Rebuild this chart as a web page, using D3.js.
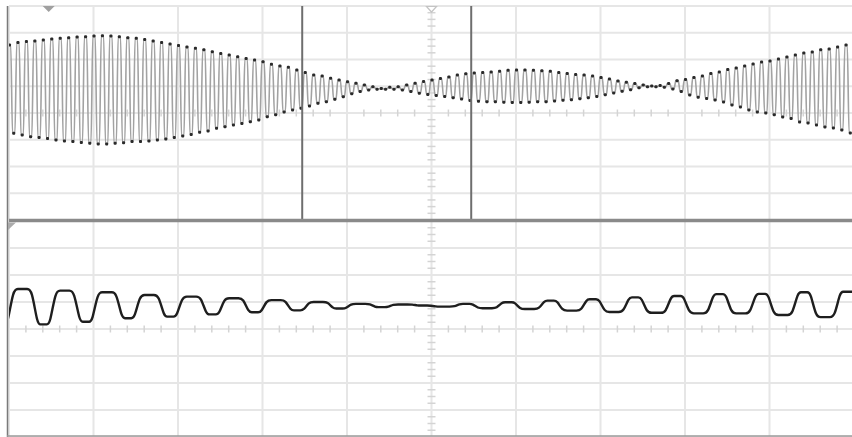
<!DOCTYPE html>
<html>
<head>
<meta charset="utf-8">
<script src="https://cdn.jsdelivr.net/npm/d3@7"></script>
<style>
  body { margin: 0; background: #fff; }
  svg { display: block; }
</style>
</head>
<body>
<div id="chart"></div>
<script>
const width = 852;
const height = 437;

// Channel 1 (top): peak and trough level of every cycle, in divisions
const ch1Peaks = [
  2.54, 2.64, 2.67, 2.69, 2.73, 2.77, 2.79, 2.81, 2.84, 2.85,
  2.88, 2.89, 2.88, 2.85, 2.81, 2.79, 2.75, 2.69, 2.64, 2.58,
  2.52, 2.47, 2.42, 2.36, 2.29, 2.22, 2.17, 2.10, 2.04, 1.98,
  1.92, 1.82, 1.76, 1.71, 1.61, 1.51, 1.42, 1.38, 1.30, 1.23,
  1.17, 1.11, 1.05, 0.98, 0.92, 0.96, 0.98, 1.05, 1.11, 1.18,
  1.23, 1.29, 1.35, 1.42, 1.47, 1.50, 1.51, 1.53, 1.56, 1.60,
  1.61, 1.61, 1.60, 1.58, 1.56, 1.51, 1.48, 1.44, 1.42, 1.38,
  1.33, 1.27, 1.20, 1.15, 1.10, 1.05, 1.01, 1.03, 1.10, 1.21,
  1.25, 1.33, 1.38, 1.48, 1.53, 1.63, 1.68, 1.76, 1.83, 1.91,
  1.94, 2.02, 2.09, 2.17, 2.24, 2.28, 2.36, 2.39, 2.47, 2.54
];
const ch1Troughs = [
  -0.76, -0.82, -0.89, -0.92, -0.95, -1.01, -1.05, -1.07, -1.10, -1.13,
  -1.16, -1.16, -1.13, -1.11, -1.07, -1.07, -1.05, -1.01, -0.97, -0.92,
  -0.86, -0.80, -0.72, -0.67, -0.57, -0.51, -0.45, -0.39, -0.33, -0.26,
  -0.14, -0.07, 0.04, 0.11, 0.18, 0.26, 0.36, 0.42, 0.51, 0.61,
  0.72, 0.80, 0.86, 0.89, 0.89, 0.89, 0.86, 0.80, 0.74, 0.69,
  0.65, 0.62, 0.57, 0.52, 0.47, 0.44, 0.42, 0.42, 0.40, 0.39,
  0.39, 0.40, 0.42, 0.42, 0.45, 0.48, 0.50, 0.53, 0.57, 0.62,
  0.68, 0.75, 0.81, 0.87, 0.94, 0.98, 0.98, 0.96, 0.90, 0.80,
  0.67, 0.59, 0.54, 0.49, 0.41, 0.30, 0.22, 0.11, 0.04, 0.00,
  -0.07, -0.15, -0.21, -0.34, -0.37, -0.45, -0.52, -0.56, -0.64, -0.75
];
const ch1Period = 0.1;   // div per cycle
const ch1Phase = 0.006;  // div, first peak

// Channel 2 (bottom): level of the wide lobe and the narrow lobe of every cycle
const ch2Wide = [
  1.48, 1.42, 1.36, 1.26, 1.20, 1.14, 1.07, 1.00, 0.93, 0.91,
  0.83, 0.77, 0.74, 0.68, 0.63, 0.60, 0.58, 0.58, 0.52, 0.44
];
const ch2Narrow = [
  0.17, 0.27, 0.40, 0.46, 0.54, 0.62, 0.69, 0.76, 0.81, 0.87,
  0.93, 0.99, 1.05, 1.10, 1.17, 1.22, 1.29, 1.30, 1.36, 1.38
];
const ch2Start = 0.19;   // narrow lobe just before the screen
const ch2Period = 0.5;
const ch2Phase = 0.16;

const cursors = [3.47, 5.47];   // div
const triggerPos = 0.47;        // div

const svg = d3.select("#chart")
  .append("svg")
  .attr("width", width)
  .attr("height", height);

const x = d3.scaleLinear().domain([0, 10]).range([9, 854]);
const yTop = d3.scaleLinear().domain([-4, 4]).range([220, 6]);
const yBot = d3.scaleLinear().domain([-4, 4]).range([437, 221]);

const defs = svg.append("defs");
defs.append("clipPath").attr("id", "clipTop")
  .append("rect").attr("x", x(0)).attr("y", 6).attr("width", x(10) - x(0)).attr("height", 213);
defs.append("clipPath").attr("id", "clipBot")
  .append("rect").attr("x", x(0)).attr("y", 222).attr("width", x(10) - x(0)).attr("height", 214);

// grid
const grid = svg.append("g").attr("stroke", "#e6e6e6").attr("stroke-width", 2);
grid.selectAll(".vg").data(d3.range(0, 11)).enter().append("line")
  .attr("x1", d => x(d)).attr("x2", d => x(d))
  .attr("y1", 6).attr("y2", height);
grid.selectAll(".ht").data(d3.range(-4, 5)).enter().append("line")
  .attr("x1", x(0)).attr("x2", x(10))
  .attr("y1", d => yTop(d)).attr("y2", d => yTop(d));
grid.selectAll(".hb").data(d3.range(-4, 5)).enter().append("line")
  .attr("x1", x(0)).attr("x2", x(10))
  .attr("y1", d => yBot(d)).attr("y2", d => yBot(d));

// minor ticks on the centre axes
const ticks = svg.append("g").attr("stroke", "#d4d4d4").attr("stroke-width", 1.5);
const hMinor = d3.range(0, 51).filter(i => i % 5 !== 0).map(i => i / 5);
[yTop(0), yBot(0)].forEach(cy => {
  ticks.append("g").selectAll("line").data(hMinor).enter().append("line")
    .attr("x1", d => x(d)).attr("x2", d => x(d))
    .attr("y1", cy - 3.5).attr("y2", cy + 3.5);
});
const vMinor = d3.range(-16, 17).filter(i => i % 4 !== 0).map(i => i / 4);
[yTop, yBot].forEach(ys => {
  ticks.append("g").selectAll("line").data(vMinor).enter().append("line")
    .attr("x1", x(5) - 4).attr("x2", x(5) + 4)
    .attr("y1", d => ys(d)).attr("y2", d => ys(d));
});

// channel 1 trace: each peak is a short cap, edges nearly vertical
const cap = 0.014;
const ch1Pk = [];
ch1Peaks.forEach((v, k) => {
  ch1Pk.push({ t: ch1Phase + k * ch1Period, v: v });
  ch1Pk.push({ t: ch1Phase + (k + 0.5) * ch1Period, v: ch1Troughs[k] });
});
const ch1 = [];
ch1Pk.forEach(d => {
  ch1.push({ t: d.t - cap, v: d.v });
  ch1.push({ t: d.t + cap, v: d.v });
});

const topPanel = svg.append("g").attr("clip-path", "url(#clipTop)");
topPanel.append("path")
  .datum(ch1)
  .attr("fill", "none")
  .attr("stroke", "#a2a2a2")
  .attr("stroke-width", 1.6)
  .attr("d", d3.line().curve(d3.curveMonotoneX).x(d => x(d.t)).y(d => yTop(d.v)));
topPanel.selectAll("rect")
  .data(ch1Pk)
  .enter()
  .append("rect")
  .attr("x", d => x(d.t) - 1.5)
  .attr("y", d => yTop(d.v) - 1.5)
  .attr("width", 3)
  .attr("height", 3)
  .attr("rx", 1)
  .attr("fill", "#2a2a2a");

// channel 2 trace: flat lobes with rounded corners, wide and narrow
const ch2 = [];
const wHalf = 0.11, nHalf = 0.075;
const lobe = (tc, h, v) => {
  [-1, -0.5, 0, 0.5, 1].forEach(f => ch2.push({ t: tc + f * h, v: v }));
};
lobe(ch2Phase - ch2Period / 2, nHalf, ch2Start);
ch2Wide.forEach((v, k) => {
  const tw = ch2Phase + k * ch2Period;
  lobe(tw, wHalf, v);
  lobe(tw + ch2Period / 2, nHalf, ch2Narrow[k]);
});

svg.append("g").attr("clip-path", "url(#clipBot)")
  .append("path")
  .datum(ch2)
  .attr("fill", "none")
  .attr("stroke", "#1e1e1e")
  .attr("stroke-width", 2.4)
  .attr("stroke-linejoin", "round")
  .attr("d", d3.line().curve(d3.curveBasis).x(d => x(d.t)).y(d => yBot(d.v)));

// cursors
svg.selectAll(".cursor")
  .data(cursors)
  .enter()
  .append("line")
  .attr("x1", d => x(d)).attr("x2", d => x(d))
  .attr("y1", 6).attr("y2", 219)
  .attr("stroke", "#6e6e6e")
  .attr("stroke-width", 2);

// borders
svg.append("line")
  .attr("x1", x(0)).attr("x2", x(10)).attr("y1", 220.5).attr("y2", 220.5)
  .attr("stroke", "#8a8a8a").attr("stroke-width", 3.5);
svg.append("line")
  .attr("x1", 7.5).attr("x2", 7.5).attr("y1", 6).attr("y2", height)
  .attr("stroke", "#7a7a7a").attr("stroke-width", 1.5);
svg.append("line")
  .attr("x1", 7).attr("x2", width).attr("y1", 436).attr("y2", 436)
  .attr("stroke", "#9a9a9a").attr("stroke-width", 1.5);

// markers
const tx = x(triggerPos);
svg.append("path")
  .attr("d", `M${tx - 6},6L${tx + 6},6L${tx},12Z`)
  .attr("fill", "#a0a0a0");
const cx = x(5);
svg.append("path")
  .attr("d", `M${cx - 5},6.5L${cx + 5},6.5L${cx},12Z`)
  .attr("fill", "#fff")
  .attr("stroke", "#c4c4c4")
  .attr("stroke-width", 1.2);
svg.append("path")
  .attr("d", "M8,222.5L16,222.5L8,230Z")
  .attr("fill", "#ababab");
</script>
</body>
</html>
